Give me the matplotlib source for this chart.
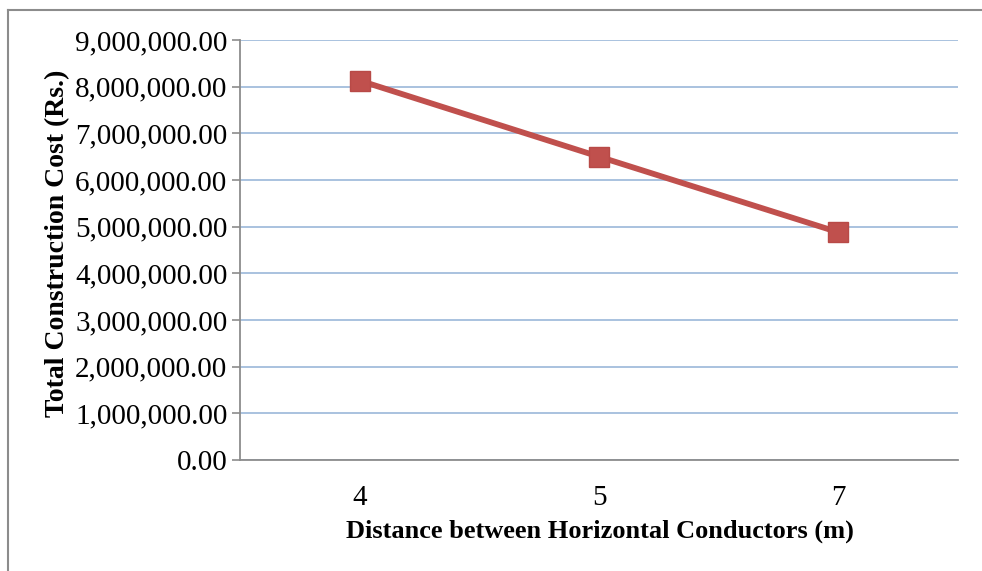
import matplotlib.pyplot as plt
from matplotlib.lines import Line2D
from matplotlib.ticker import FuncFormatter, MultipleLocator

plt.rcParams["font.family"] = ["Liberation Serif", "DejaVu Serif"]

# data
distances = ["4", "5", "7"]
costs = [8130000, 6500000, 4880000]

fig = plt.figure(figsize=(9.82, 5.71), dpi=100)
ax = fig.add_axes([240 / 982, 111 / 571, 718 / 982, 420 / 571])

x = range(len(distances))
ax.plot(x, costs, color="#c0504d", lw=4.2, marker="s", ms=15,
        markerfacecolor="#c0504d", markeredgecolor="#b84a47", zorder=3)

ax.set_xlim(-0.5, len(distances) - 0.5)
ax.set_ylim(0, 9000000)
ax.yaxis.set_major_locator(MultipleLocator(1000000))
ax.yaxis.set_major_formatter(FuncFormatter(lambda v, p: f"{v:,.2f}"))
ax.set_xticks(list(x))
ax.set_xticklabels(distances)

ax.grid(axis="y", color="#9bb7d9", lw=1.2)
ax.set_axisbelow(True)
for s in ["top", "right"]:
    ax.spines[s].set_visible(False)
for s in ["left", "bottom"]:
    ax.spines[s].set_color("#8c8c8c")
    ax.spines[s].set_linewidth(1.3)

ax.tick_params(axis="y", length=6, width=1.2, color="#8c8c8c", labelsize=21, pad=3)
ax.tick_params(axis="x", length=0, labelsize=21, pad=18)

fig.text(600 / 982, 1 - 531 / 571, "Distance between Horizontal Conductors (m)",
         ha="center", va="center", fontsize=19, fontweight="bold")
fig.text(58 / 982, 1 - 243 / 571, "Total Construction Cost (Rs.)",
         ha="center", va="center", rotation=90, fontsize=20, fontweight="bold")

# outer chart border (only left and top visible in the crop)
fig.add_artist(Line2D([7.5 / 982, 7.5 / 982], [0, 1 - 10 / 571],
                      transform=fig.transFigure, color="#8c8c8c", lw=1.5))
fig.add_artist(Line2D([7.5 / 982, 1], [1 - 10 / 571, 1 - 10 / 571],
                      transform=fig.transFigure, color="#8c8c8c", lw=1.5))

fig.savefig("out.png", dpi=100)
